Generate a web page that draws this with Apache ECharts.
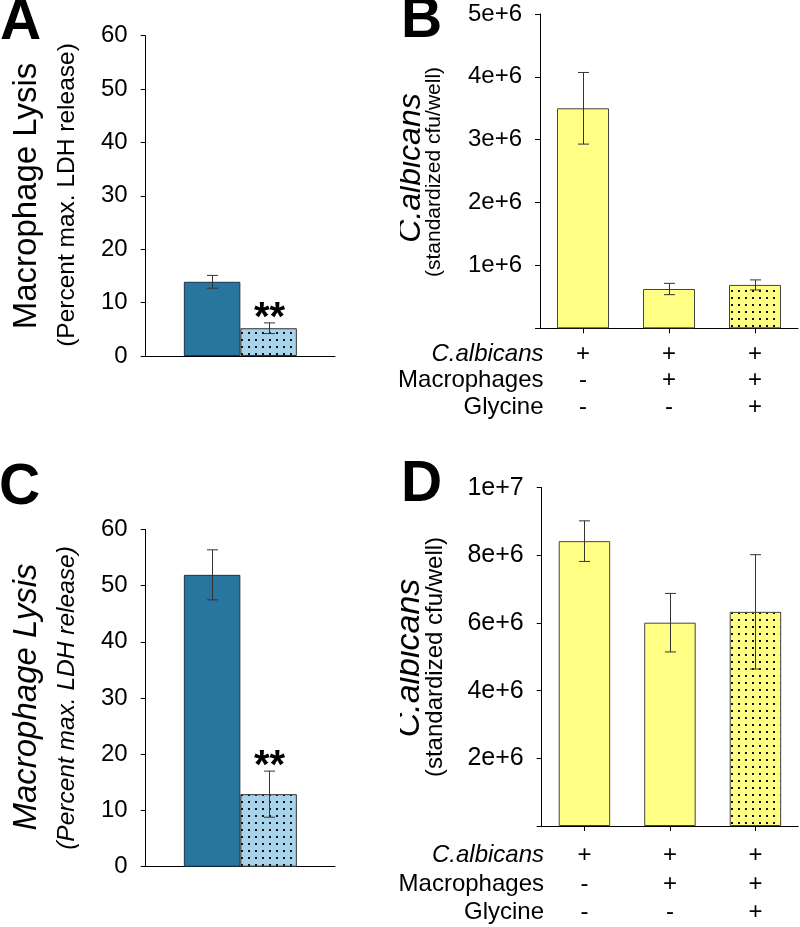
<!DOCTYPE html>
<html><head><meta charset="utf-8">
<script src="https://cdn.jsdelivr.net/npm/echarts@6/dist/echarts.min.js"></script>
<style>html,body{margin:0;padding:0;background:#fff}#c{width:800px;height:927px}</style>
</head><body><div id="c"></div>
<script>
// ---- data ----
const lysisGroups = ['Control', 'Glycine'];
const lysisA = [13.9, 5.2];
const lysisAErr = [1.2, 1.0];
const lysisASig = ['', '**'];
const lysisC = [51.9, 12.9];
const lysisCErr = [4.45, 4.1];
const lysisCSig = ['', '**'];
const lysisTicks = ['0', '10', '20', '30', '40', '50', '60'];

const condRows = ['C.albicans', 'Macrophages', 'Glycine'];
const condCalb = ['+', '+', '+'];
const condMac = ['-', '+', '+'];
const condGly = ['-', '-', '+'];

const cfuB = [3.50e6, 0.625e6, 0.69e6];
const cfuBErr = [0.57e6, 0.09e6, 0.08e6];
const cfuBTicks = ['', '1e+6', '2e+6', '3e+6', '4e+6', '5e+6'];

const cfuD = [8.42e6, 6.01e6, 6.33e6];
const cfuDErr = [0.6e6, 0.865e6, 1.69e6];
const cfuDTicks = ['', '2e+6', '4e+6', '6e+6', '8e+6', '1e+7'];

// ---- styling ----
const FONT = '"Liberation Sans", Arial, Helvetica, sans-serif';
const BLUE = '#2876a0';
const LBLUE = '#a7d4eb';
const YELLOW = '#ffff84';

function dots(bg) {
  const c = document.createElement('canvas');
  c.width = 7; c.height = 7;
  const g = c.getContext('2d');
  g.fillStyle = bg; g.fillRect(0, 0, 7, 7);
  g.fillStyle = '#111'; g.fillRect(3, 3, 2, 2);
  return { image: c, repeat: 'repeat' };
}

const condCats = condCalb.map((c, i) => [c, condMac[i], condGly[i]].join('\n'));

function yAxis(gi, max, interval, ticks, fs) {
  return {
    type: 'value', gridIndex: gi, min: 0, max: max, interval: interval,
    axisLine: { show: true, lineStyle: { color: '#000', width: 1 } },
    axisTick: { show: true, inside: false, length: 5, lineStyle: { color: '#000' } },
    splitLine: { show: false },
    axisLabel: { margin: 18, fontSize: fs, color: '#000', fontFamily: FONT,
      formatter: v => ticks[Math.round(v / interval)] }
  };
}
function xLysis(gi) {
  return { type: 'category', gridIndex: gi, data: ['Lysis'],
    axisLine: { show: true, lineStyle: { color: '#000', width: 1 } },
    axisTick: { show: false }, axisLabel: { show: false } };
}
function xCond(gi, margin, lh) {
  return { type: 'category', gridIndex: gi, data: condCats,
    axisLine: { show: true, lineStyle: { color: '#000', width: 1 } },
    axisTick: { show: true, alignWithLabel: true, length: 5, lineStyle: { color: '#000' } },
    axisLabel: { margin: margin, lineHeight: lh, fontSize: 24, color: '#000', fontFamily: FONT, interval: 0 } };
}

function errSeries(gi, cats, vals, errs, offs, barW, sig) {
  return {
    type: 'custom', xAxisIndex: gi, yAxisIndex: gi, z: 5, silent: true,
    data: vals.map((v, i) => [cats[i], v, errs[i]]),
    encode: { x: 0, y: 1 },
    renderItem: (params, api) => {
      const i = params.dataIndex;
      const cat = api.value(0), v = api.value(1), e = api.value(2);
      const top = api.coord([cat, v + e]);
      const bot = api.coord([cat, v - e]);
      const x = Math.round(top[0] + offs[i] * barW) + 0.5;
      const hw = 5.5;
      const style = { stroke: '#333', lineWidth: 1 };
      const children = [
        { type: 'line', shape: { x1: x, y1: top[1], x2: x, y2: bot[1] }, style },
        { type: 'line', shape: { x1: x - hw, y1: top[1], x2: x + hw, y2: top[1] }, style },
        { type: 'line', shape: { x1: x - hw, y1: bot[1], x2: x + hw, y2: bot[1] }, style }
      ];
      if (sig && sig[i]) {
        children.push({ type: 'text', style: { text: sig[i], x: x, y: top[1] - 4,
          align: 'center', verticalAlign: 'middle', font: 'bold 40px ' + FONT, fill: '#000' } });
      }
      return { type: 'group', children };
    }
  };
}

const BWL = 56.5;
const lysisBar = (gi, vals) => [
  { type: 'bar', name: lysisGroups[0], xAxisIndex: gi, yAxisIndex: gi, data: [vals[0]],
    barWidth: BWL, barGap: '0%', itemStyle: { color: BLUE, borderColor: '#1b3447', borderWidth: 1 } },
  { type: 'bar', name: lysisGroups[1], xAxisIndex: gi, yAxisIndex: gi, data: [vals[1]],
    barWidth: BWL, barGap: '0%', itemStyle: { color: dots(LBLUE), borderColor: '#333', borderWidth: 1 } }
];
const cfuBar = (gi, vals, bw) => ({
  type: 'bar', xAxisIndex: gi, yAxisIndex: gi, barWidth: bw,
  data: vals.map((v, i) => ({ value: v, itemStyle: { color: condGly[i] === '+' ? dots(YELLOW) : YELLOW } })),
  itemStyle: { borderColor: '#444', borderWidth: 1 }
});

function rotText(text, x, y, font) {
  return { type: 'text', x: x, y: y, rotation: Math.PI / 2, z: 10,
    style: { text: text, align: 'center', verticalAlign: 'middle', font: font, fill: '#000' } };
}
function plainText(text, x, y, font, align) {
  return { type: 'text', x: x, y: y, z: 10,
    style: { text: text, align: align || 'left', verticalAlign: 'middle', font: font, fill: '#000' } };
}

const rowYB = [354, 380.5, 407];
const rowYD = [855.5, 884, 912.5];

const graphics = [
  plainText('A', 0, 23, 'bold 57px ' + FONT),
  plainText('B', 401, 21, 'bold 57px ' + FONT),
  plainText('C', -1, 488, 'bold 57px ' + FONT),
  plainText('D', 401, 485, 'bold 57px ' + FONT),
  rotText('Macrophage Lysis', 27, 196, '33px ' + FONT),
  rotText('(Percent max. LDH release)', 67, 195, '24.5px ' + FONT),
  rotText('Macrophage Lysis', 27, 697, 'italic 33px ' + FONT),
  rotText('(Percent max. LDH release)', 67, 698, 'italic 24.5px ' + FONT),
  rotText('C.albicans', 411, 168, 'italic 32px ' + FONT),
  rotText('(standardized cfu/well)', 434, 172, '21px ' + FONT),
  rotText('C.albicans', 410, 658, 'italic 34px ' + FONT),
  rotText('(standardized cfu/well)', 435, 657, '24px ' + FONT),
  { type: 'rect', z: 20, shape: { x: 340, y: 60, width: 60, height: 240 }, style: { fill: '#fff' } },
  { type: 'rect', z: 20, shape: { x: 340, y: 520, width: 60, height: 280 }, style: { fill: '#fff' } }
];
condRows.forEach((r, i) => {
  const f = (i === 0 ? 'italic ' : '') + '24px ' + FONT;
  graphics.push(plainText(r, 543.5, rowYB[i], f, 'right'));
  graphics.push(plainText(r, 544, rowYD[i], f, 'right'));
});

const chart = echarts.init(document.getElementById('c'), null, { renderer: 'canvas' });
chart.setOption({
  backgroundColor: '#fff',
  animation: false,
  textStyle: { fontFamily: FONT },
  grid: [
    { left: 145.7, top: 35.7, width: 189.3, height: 320.3 },
    { left: 540, top: 14, width: 258, height: 314.3 },
    { left: 145.7, top: 529.3, width: 189.3, height: 337.4 },
    { left: 541.7, top: 487.7, width: 256.5, height: 338.3 }
  ],
  xAxis: [xLysis(0), xCond(1, 12.4, 26.5), xLysis(2), xCond(3, 15.2, 28.5)],
  yAxis: [
    yAxis(0, 60, 10, lysisTicks, 24),
    yAxis(1, 5e6, 1e6, cfuBTicks, 24),
    yAxis(2, 60, 10, lysisTicks, 24),
    yAxis(3, 1e7, 2e6, cfuDTicks, 25)
  ],
  series: [
    ...lysisBar(0, lysisA),
    errSeries(0, [0, 0], lysisA, lysisAErr, [-0.5, 0.5], BWL, lysisASig),
    cfuBar(1, cfuB, 52),
    errSeries(1, [0, 1, 2], cfuB, cfuBErr, [0, 0, 0], 0, null),
    ...lysisBar(2, lysisC),
    errSeries(2, [0, 0], lysisC, lysisCErr, [-0.5, 0.5], BWL, lysisCSig),
    cfuBar(3, cfuD, 51.5),
    errSeries(3, [0, 1, 2], cfuD, cfuDErr, [0, 0, 0], 0, null)
  ],
  graphic: graphics
});
</script>
</body></html>
